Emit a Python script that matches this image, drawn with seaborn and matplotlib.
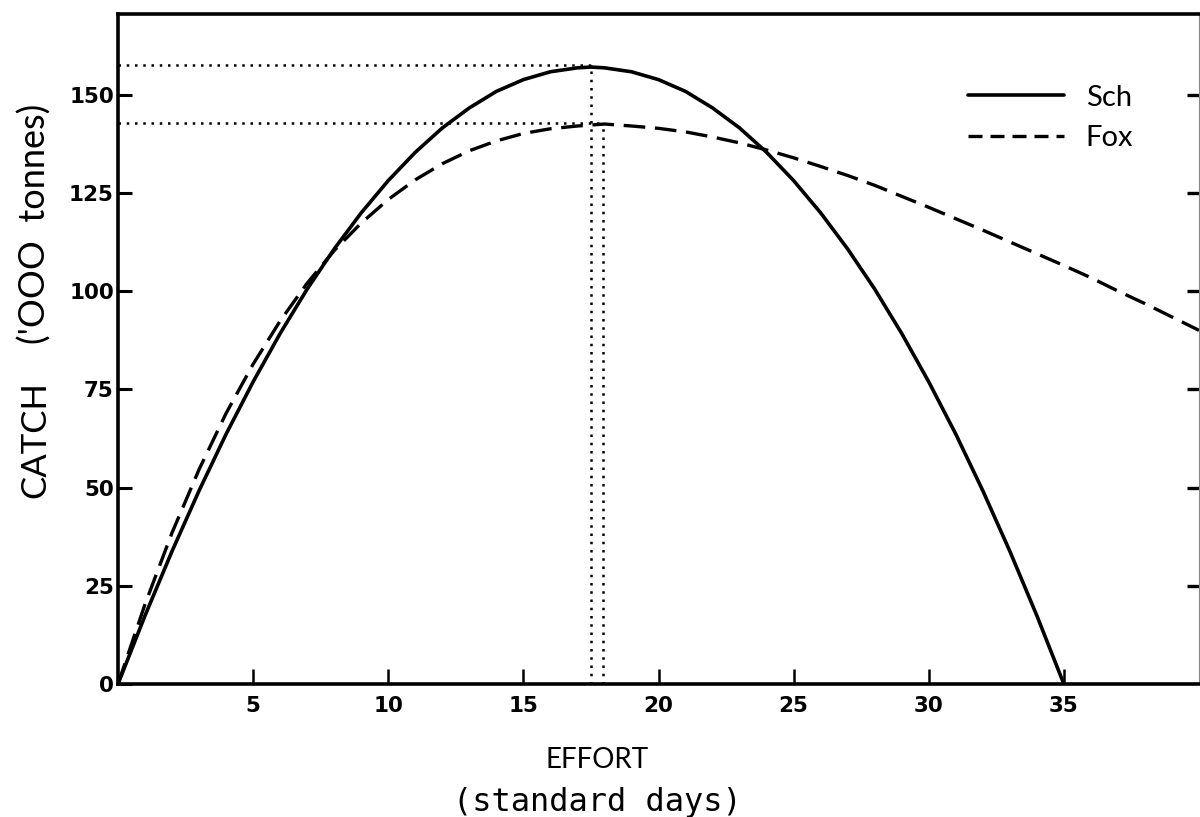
import matplotlib
matplotlib.use("Agg")
import matplotlib.pyplot as plt
from matplotlib.lines import Line2D
import seaborn as sns
import pandas as pd

# ---- data ----
sch_effort = [0, 1, 2, 3, 4, 5, 6, 7, 8, 9, 10, 11, 12, 13, 14, 15, 16, 17, 17.5,
              18, 19, 20, 21, 22, 23, 24, 25, 26, 27, 28, 29, 30, 31, 32, 33, 34, 35]
sch_catch = [0, 17.4, 33.8, 49.2, 63.6, 76.9, 89.2, 100.5, 110.7, 119.9, 128.1, 135.3,
             141.5, 146.6, 150.8, 153.8, 155.8, 156.8, 157.0, 156.8, 155.8, 153.8, 150.8,
             146.6, 141.5, 135.3, 128.1, 119.9, 110.7, 100.5, 89.2, 76.9, 63.6, 49.2,
             33.8, 17.4, 0]

fox_effort = [0, 1, 2, 3, 4, 5, 6, 7, 8, 9, 10, 11, 12, 13, 14, 15, 16, 17, 18, 19, 20,
              21, 22, 23, 24, 25, 26, 27, 28, 29, 30, 31, 32, 33, 34, 35, 36, 37, 38, 39, 40]
fox_catch = [0, 20.3, 38.5, 54.6, 68.9, 81.4, 92.4, 102.0, 110.3, 117.3, 123.3, 128.3,
             132.4, 135.7, 138.2, 140.1, 141.3, 142.0, 142.5, 142.0, 141.4, 140.5, 139.2,
             137.7, 135.9, 133.9, 131.7, 129.4, 126.9, 124.1, 121.3, 118.4, 115.5, 112.5,
             109.5, 106.5, 103.4, 100.0, 96.8, 93.4, 90.0]

msy_sch = (17.5, 157.4)   # effort, catch at Schaefer maximum
msy_fox = (17.95, 142.8)  # effort, catch at Fox maximum

x_ticks = [5, 10, 15, 20, 25, 30, 35]
y_ticks = [0, 25, 50, 75, 100, 125, 150]
right_ticks = [25, 50, 75, 100, 125, 150]

sns.set_theme(style="white")
plt.rcParams["font.family"] = ["DejaVu Sans"]

W, H = 1200, 817
fig = plt.figure(figsize=(12, 8.17), dpi=100)
ax = fig.add_axes([118 / W, 1 - 684 / H, (1199 - 118) / W, (684 - 14) / H])

df_sch = pd.DataFrame({"effort": sch_effort, "catch": sch_catch})
df_fox = pd.DataFrame({"effort": fox_effort, "catch": fox_catch})

sns.lineplot(data=df_sch, x="effort", y="catch", color="black", linewidth=2.6,
             ax=ax, errorbar=None)
sns.lineplot(data=df_fox, x="effort", y="catch", color="black", linewidth=2.4,
             linestyle=(0, (6.5, 2.9)), ax=ax, errorbar=None)

dot = dict(color="black", linewidth=1.8, linestyle=(0, (1, 2.3)), zorder=1)
ax.plot([0, msy_sch[0]], [msy_sch[1], msy_sch[1]], **dot)
ax.plot([msy_sch[0], msy_sch[0]], [0, msy_sch[1]], **dot)
ax.plot([0, msy_fox[0]], [msy_fox[1], msy_fox[1]], **dot)
ax.plot([msy_fox[0], msy_fox[0]], [0, msy_fox[1]], **dot)

ax.set_xlim(0, 40)
ax.set_ylim(0, 170.5)
ax.set_xticks(x_ticks)
ax.set_yticks(y_ticks)
ax.set_xlabel("")
ax.set_ylabel("")

for s in ["left", "bottom", "top"]:
    ax.spines[s].set_linewidth(2.6)
    ax.spines[s].set_color("black")
ax.spines["right"].set_linewidth(0.8)
ax.spines["right"].set_color("#888888")

ax.tick_params(axis="y", which="both", direction="in", left=True, right=False,
               length=10, width=2.2, pad=3, labelsize=15.5, colors="black")
ax.tick_params(axis="x", which="both", direction="in", bottom=True, top=False,
               length=11, width=1.8, pad=9, labelsize=15.5, colors="black")
for lab in ax.get_xticklabels() + ax.get_yticklabels():
    lab.set_fontweight("bold")

# inward ticks on the right edge, no labels
for v in right_ticks:
    ax.plot([39.55, 40], [v, v], color="black", linewidth=2.4, clip_on=False,
            solid_capstyle="butt")

# legend
handles = [Line2D([0], [0], color="black", lw=2.6),
           Line2D([0], [0], color="black", lw=2.4, linestyle=(0, (4.2, 2.4)))]
leg = ax.legend(handles, ["Sch", "Fox"], loc="upper left",
                bbox_to_anchor=(953 / W, 1 - 70 / H), bbox_transform=fig.transFigure,
                frameon=False, borderpad=0, handlelength=3.3, handletextpad=0.75,
                labelspacing=0.5, labelcolor="black",
                prop={"family": "Lato", "size": 21})

# axis labels
fig.text(35 / W, 1 - 440 / H, "CATCH", rotation=90, ha="center", va="center",
         fontsize=25, family="Lato", color="black")
fig.text(35 / W, 1 - 224 / H, "('OOO  tonnes)", rotation=90, ha="center", va="center",
         fontsize=26, family="Lato", color="black")
fig.text(597 / W, 1 - 760 / H, "EFFORT", ha="center", va="center",
         fontsize=20, family="Lato", color="black")
fig.text(597 / W, 1 - 802 / H, "(standard days)", ha="center", va="center",
         fontsize=23, family="DejaVu Sans Mono", color="black")

fig.savefig("out.png", dpi=100)
